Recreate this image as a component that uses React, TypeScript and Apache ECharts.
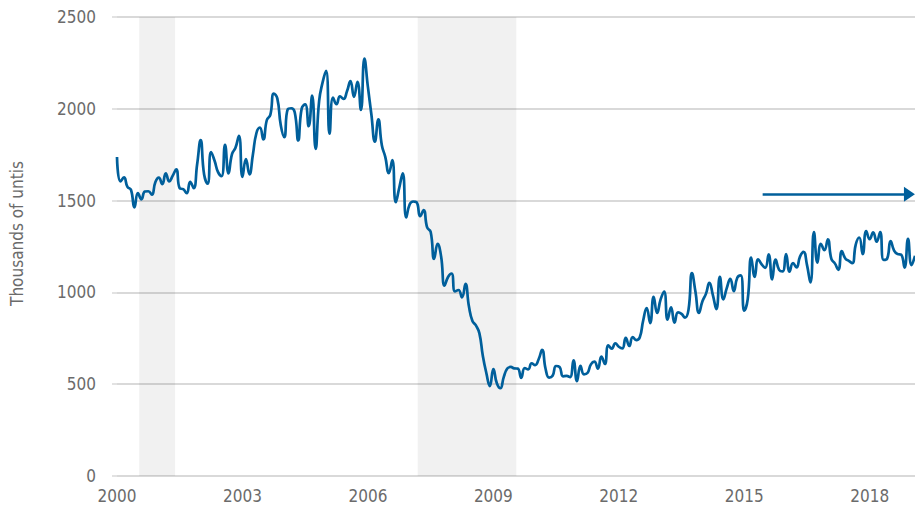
import React, { useEffect, useRef } from "react";
import * as echarts from "echarts";

// Monthly observations, thousands of units; the first one sits on the 2000 tick
const START_YEAR = 2000;
const housingStarts: number[] = [
  // 2000 (from the 2000 tick)
  1737, 1604, 1626, 1575, 1559, 1463, 1541, 1507, 1549, 1551, 1532,
  // 2001
  1600, 1625, 1590, 1649, 1605, 1636, 1670, 1567, 1562, 1540, 1602, 1568,
  // 2002
  1698, 1829, 1642, 1592, 1764, 1717, 1655, 1633, 1804, 1648, 1753, 1788,
  // 2003
  1853, 1629, 1726, 1643, 1751, 1867, 1897, 1833, 1939, 1967, 2083, 2057,
  // 2004
  1911, 1846, 1998, 2003, 1981, 1828, 2002, 2024, 1905, 2072, 1782, 2042,
  // 2005
  2144, 2207, 1864, 2061, 2025, 2068, 2054, 2095, 2151, 2065, 2147, 1994,
  // 2006
  2273, 2119, 1969, 1821, 1942, 1802, 1737, 1650, 1720, 1491, 1570, 1649,
  // 2007
  1409, 1480, 1495, 1490, 1415, 1448, 1354, 1330, 1183, 1264, 1197, 1037,
  // 2008
  1084, 1103, 1005, 1013, 973, 1046, 923, 844, 820, 777, 652, 560,
  // 2009
  490, 582, 505, 478, 540, 585, 594, 586, 585, 534, 588, 581,
  // 2010
  614, 604, 636, 687, 583, 536, 546, 599, 594, 543, 545, 539,
  // 2011
  630, 517, 600, 554, 561, 608, 623, 585, 650, 610, 711, 694,
  // 2012
  723, 704, 695, 753, 708, 757, 740, 754, 847, 915, 833, 976,
  // 2013
  888, 962, 1005, 851, 919, 835, 891, 883, 863, 905, 1105, 1003,
  // 2014
  888, 952, 992, 1052, 985, 909, 1085, 962, 1025, 1074, 1007, 1080,
  // 2015
  1093, 900, 963, 1190, 1085, 1180, 1153, 1134, 1207, 1071, 1179, 1123,
  // 2016
  1114, 1208, 1113, 1160, 1136, 1195, 1221, 1150, 1054, 1328, 1162, 1265,
  // 2017
  1230, 1289, 1182, 1158, 1123, 1225, 1185, 1172, 1159, 1261, 1299, 1209,
  // 2018
  1334, 1290, 1327, 1276, 1329, 1177, 1184, 1280, 1228, 1209, 1206, 1135,
  // 2019
  1291, 1149, 1199,
];

const xTickYears = [2000, 2003, 2006, 2009, 2012, 2015, 2018];
const yTicks = [0, 500, 1000, 1500, 2000, 2500];
const yAxisTitle = "Thousands of untis";

// shaded periods [from, to] in years
const shadedBands: [number, number][] = [
  [2000.53, 2001.39],
  [2007.19, 2009.55],
];
const shadeTop = 2527;

// trend arrow
const arrowLevel = 1535;
const arrowFrom = 2015.44;
const arrowTo = 2018.95;

const LINE_COLOR = "#005f9b";
const LABEL_COLOR = "#6b6b6b";
const GRID_COLOR = "#d9d9d9";
const FONT = "'DejaVu Sans Condensed', 'DejaVu Sans', sans-serif";

export default function App() {
  const ref = useRef<HTMLDivElement>(null);

  useEffect(() => {
    document.body.style.margin = "0";
    if (!ref.current) return;
    const chart = echarts.init(ref.current, undefined, { renderer: "svg" });
    const points = housingStarts.map((v, i) => [START_YEAR + i / 12, v]);
    const lastX = START_YEAR + (housingStarts.length - 1) / 12;

    chart.setOption({
      animation: false,
      grid: { left: 116, right: 0, top: 17, bottom: 38, containLabel: false },
      xAxis: {
        type: "value",
        min: xTickYears[0],
        max: lastX,
        interval: 3,
        axisLine: { show: false },
        axisTick: { show: false },
        splitLine: { show: false },
        axisLabel: {
          color: LABEL_COLOR,
          fontFamily: FONT,
          fontSize: 17,
          margin: 11,
          showMaxLabel: false,
          formatter: (v: number) => {
            const r = Math.round(v);
            return Math.abs(v - r) < 1e-6 && xTickYears.includes(r) ? String(r) : "";
          },
        },
      },
      yAxis: {
        type: "value",
        min: yTicks[0],
        max: yTicks[yTicks.length - 1],
        interval: 500,
        name: yAxisTitle,
        nameLocation: "middle",
        nameGap: 92,
        nameTextStyle: {
          color: LABEL_COLOR,
          fontFamily: FONT,
          fontSize: 17,
          padding: [0, 0, 0, 26],
        },
        axisLine: { show: false },
        axisTick: { show: true, length: 5, lineStyle: { color: GRID_COLOR, width: 1.5 } },
        axisLabel: {
          color: LABEL_COLOR,
          fontFamily: FONT,
          fontSize: 17,
          margin: 21,
          formatter: (v: number) => String(v),
        },
        splitLine: { lineStyle: { color: GRID_COLOR, width: 2 } },
      },
      series: [
        {
          type: "line",
          data: points,
          smooth: 0.5,
          showSymbol: false,
          clip: false,
          lineStyle: { color: LINE_COLOR, width: 2.7 },
          markArea: {
            silent: true,
            itemStyle: { color: "rgba(0,0,0,0.055)" },
            data: shadedBands.map(([a, b]) => [
              { coord: [a, 0] },
              { coord: [b, shadeTop] },
            ]),
          },
          markLine: {
            silent: true,
            symbol: ["none", "triangle"],
            symbolSize: [15, 11],
            lineStyle: { color: LINE_COLOR, width: 2.7, type: "solid" },
            itemStyle: { color: LINE_COLOR },
            label: { show: false },
            data: [
              [
                { coord: [arrowFrom, arrowLevel] },
                { coord: [arrowTo, arrowLevel] },
              ],
            ],
          },
        },
      ],
    });

    return () => chart.dispose();
  }, []);

  return <div ref={ref} style={{ width: 915, height: 514 }} />;
}
